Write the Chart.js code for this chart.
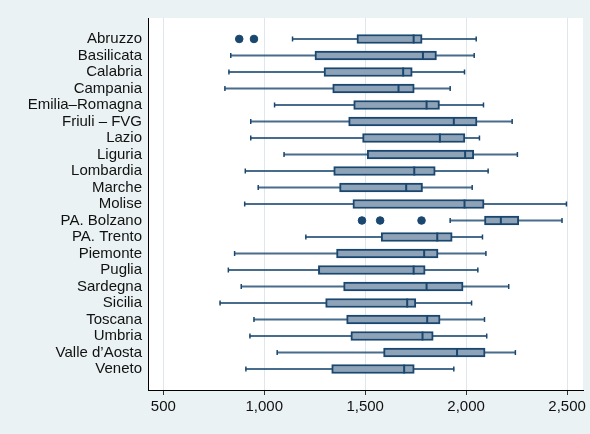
<!DOCTYPE html>
<html lang="it">
<head>
<meta charset="utf-8">
<title>Box plot per regione</title>
<script src="https://cdn.jsdelivr.net/npm/chart.js@4.4.1/dist/chart.umd.min.js"></script>
<style>
    html, body { margin: 0; padding: 0; background: #eaf2f3; }
    #wrap { width: 590px; height: 434px; }
</style>
</head>
<body>
<div id="wrap"><canvas id="boxRegioni" width="590" height="434"></canvas></div>
<script>
// Dati
const regioni = ['Abruzzo', 'Basilicata', 'Calabria', 'Campania', 'Emilia–Romagna', 'Friuli – FVG', 'Lazio',
    'Liguria', 'Lombardia', 'Marche', 'Molise', 'PA. Bolzano', 'PA. Trento', 'Piemonte', 'Puglia',
    'Sardegna', 'Sicilia', 'Toscana', 'Umbria', 'Valle d’Aosta', 'Veneto'];
const baffoMin = [1140, 834, 825, 805, 1051, 933, 933, 1098, 906, 970, 903, 1921, 1206, 853, 822, 886, 781, 949, 929, 1064, 909];
const q1 = [1459, 1251, 1296, 1339, 1443, 1418, 1487, 1510, 1344, 1373, 1439, 2091, 1579, 1358, 1268, 1393, 1304, 1408, 1429, 1591, 1334];
const mediana = [1740, 1786, 1688, 1665, 1804, 1939, 1870, 1995, 1743, 1703, 1992, 2172, 1857, 1792, 1740, 1804, 1708, 1807, 1784, 1955, 1693];
const q3 = [1782, 1853, 1733, 1743, 1868, 2054, 1994, 2038, 1847, 1784, 2089, 2261, 1931, 1861, 1797, 1985, 1751, 1871, 1837, 2094, 1743];
const baffoMax = [2050, 2040, 1992, 1921, 2086, 2228, 2066, 2254, 2109, 2030, 2497, 2475, 2081, 2098, 2058, 2211, 2027, 2091, 2102, 2244, 1939];
const outlierRegione = ['Abruzzo', 'Abruzzo', 'PA. Bolzano', 'PA. Bolzano', 'PA. Bolzano'];
const outlierValore = [876, 949, 1484, 1574, 1779];
const tickX = [500, 1000, 1500, 2000, 2500];

const NAVY = 'rgb(26, 71, 111)';
const BAFFO = 'rgba(26, 71, 111, 0.8)';
const RIEMPIMENTO = 'rgb(142, 163, 183)';
const FONT = { family: '"Liberation Sans", Arial, sans-serif', size: 15 };

// Sfondo grigio-azzurro e area del grafico bianca
const sfondoPlugin = {
    id: 'sfondo',
    beforeDraw(chart) {
        const { ctx, chartArea: a } = chart;
        ctx.save();
        ctx.fillStyle = '#eaf2f3';
        ctx.fillRect(0, 0, chart.width, chart.height);
        ctx.fillStyle = '#ffffff';
        ctx.fillRect(a.left, a.top, a.right - a.left, a.bottom - a.top);
        ctx.restore();
    }
};

class BoxRegioni {
    constructor() {
        this.canvas = document.getElementById('boxRegioni');
        this.init();
    }

    init() {
        this.chart = new Chart(this.canvas.getContext('2d'), {
            type: 'bar',
            data: { datasets: this.creaDataset() },
            options: this.creaOpzioni(),
            plugins: [sfondoPlugin]
        });
    }

    creaDataset() {
        return [
            {
                // Baffi
                label: 'baffi',
                data: regioni.map((r, i) => ({ y: i, x: [baffoMin[i], baffoMax[i]] })),
                backgroundColor: BAFFO,
                barThickness: 1.5,
                grouped: false,
                order: 5
            },
            {
                // Scatole q1 - q3
                label: 'scatole',
                data: regioni.map((r, i) => ({ y: i, x: [q1[i], q3[i]] })),
                backgroundColor: RIEMPIMENTO,
                borderColor: NAVY,
                borderWidth: 2,
                borderSkipped: false,
                barThickness: 9,
                grouped: false,
                order: 3
            },
            {
                // Estremi dei baffi
                type: 'scatter',
                label: 'estremi',
                data: regioni.flatMap((r, i) => [{ x: baffoMin[i], y: i }, { x: baffoMax[i], y: i }]),
                pointStyle: 'line',
                rotation: 90,
                pointRadius: 2.5,
                borderColor: NAVY,
                borderWidth: 1.5,
                order: 4
            },
            {
                // Mediane
                type: 'scatter',
                label: 'mediana',
                data: regioni.map((r, i) => ({ x: mediana[i], y: i })),
                pointStyle: 'line',
                rotation: 90,
                pointRadius: 4.5,
                borderColor: NAVY,
                borderWidth: 2,
                order: 2
            },
            {
                // Valori anomali
                type: 'scatter',
                label: 'outlier',
                data: outlierValore.map((v, k) => ({ x: v, y: regioni.indexOf(outlierRegione[k]) })),
                pointStyle: 'circle',
                pointRadius: 3.8,
                backgroundColor: NAVY,
                borderColor: NAVY,
                borderWidth: 1,
                order: 1
            }
        ];
    }

    creaOpzioni() {
        return {
            indexAxis: 'y',
            responsive: false,
            animation: false,
            layout: { padding: { left: 0, top: 18, right: 7, bottom: 0 } },
            plugins: {
                legend: { display: false },
                tooltip: { enabled: false }
            },
            scales: {
                x: {
                    type: 'linear',
                    min: 424,
                    max: 2579,
                    offset: false,
                    beginAtZero: false,
                    afterBuildTicks: (s) => { s.ticks = tickX.map(v => ({ value: v })); },
                    afterFit: (s) => { s.height = 44; },
                    grid: {
                        color: '#dde7ec',
                        lineWidth: 1,
                        drawTicks: true,
                        tickLength: 5,
                        tickColor: '#333'
                    },
                    border: { display: true, color: '#000', width: 1 },
                    ticks: {
                        font: FONT,
                        color: '#111',
                        padding: 3,
                        maxRotation: 0,
                        callback: (v) => v.toLocaleString('en-US')
                    }
                },
                y: {
                    type: 'linear',
                    reverse: true,
                    min: -1.27,
                    max: 21.27,
                    offset: false,
                    afterBuildTicks: (s) => { s.ticks = regioni.map((r, i) => ({ value: i })); },
                    afterFit: (s) => { s.width = 148; },
                    grid: { display: false, drawTicks: false },
                    border: { display: true, color: '#000', width: 1 },
                    ticks: {
                        font: FONT,
                        color: '#111',
                        padding: 6,
                        autoSkip: false,
                        callback: (v) => regioni[v] || ''
                    }
                }
            }
        };
    }
}

document.addEventListener('DOMContentLoaded', () => {
    window.boxRegioni = new BoxRegioni();
});
</script>
</body>
</html>
